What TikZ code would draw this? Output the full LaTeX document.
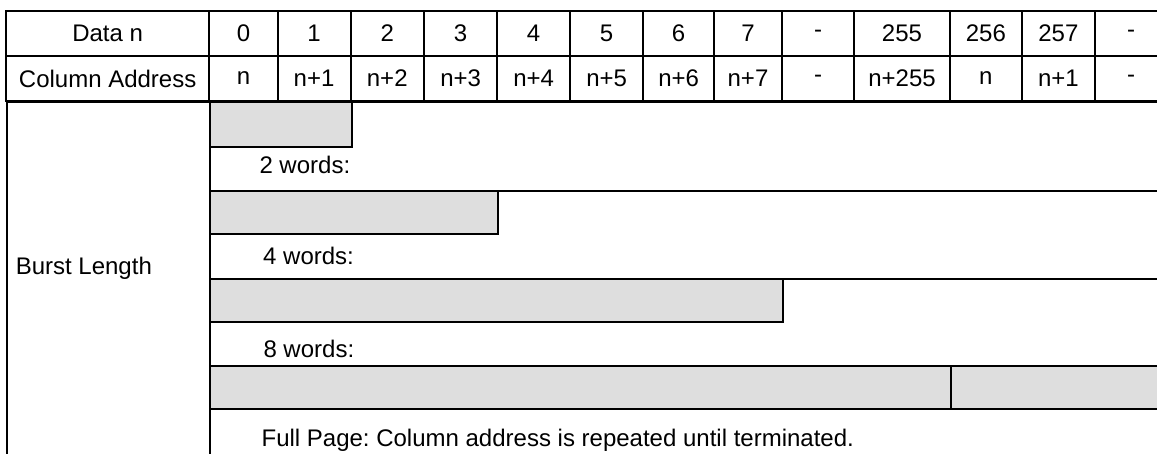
\documentclass[tikz,border=0pt]{standalone}
\usepackage{fontspec}
\setmainfont{Liberation Sans}
\frenchspacing
\definecolor{barfill}{RGB}{222,222,222}
\tikzset{
	cell/.style={draw, rectangle, line width=2pt, inner sep=0pt, minimum height=45pt},
	bar/.style={draw, rectangle, line width=2pt, fill=barfill, inner sep=0pt, anchor=north west},
	lbl/.style={inner sep=0pt, anchor=west},
}
\begin{document}
\begin{tikzpicture}[x=1pt, y=-1pt, font=\fontsize{24pt}{28pt}\selectfont]
		\path[use as bounding box, clip] (0,0) rectangle (1157,453);

		% Row headers
		\node[cell, minimum width=203.3pt] (datan) at (107.65,33.5) {Data n};
		\node[cell, minimum width=203.3pt] (coladdr) at (107.65,78.5) {Column Address};

		% Data words 0 to 7
		\node[cell, minimum width=68.4pt] (d0) at (243.5,33.5) {0};
		\node[cell, minimum width=68.4pt] (a0) at (243.5,78.5) {n};
		\node[cell, minimum width=72.8pt] (d1) at (314.1,33.5) {1};
		\node[cell, minimum width=72.8pt] (a1) at (314.1,78.5) {n+1};
		\node[cell, minimum width=73.5pt] (d2) at (387.25,33.5) {2};
		\node[cell, minimum width=73.5pt] (a2) at (387.25,78.5) {n+2};
		\node[cell, minimum width=73.3pt] (d3) at (460.65,33.5) {3};
		\node[cell, minimum width=73.3pt] (a3) at (460.65,78.5) {n+3};
		\node[cell, minimum width=72.7pt] (d4) at (533.65,33.5) {4};
		\node[cell, minimum width=72.7pt] (a4) at (533.65,78.5) {n+4};
		\node[cell, minimum width=73.3pt] (d5) at (606.65,33.5) {5};
		\node[cell, minimum width=73.3pt] (a5) at (606.65,78.5) {n+5};
		\node[cell, minimum width=70.7pt] (d6) at (678.65,33.5) {6};
		\node[cell, minimum width=70.7pt] (a6) at (678.65,78.5) {n+6};
		\node[cell, minimum width=68pt] (d7) at (748,33.5) {7};
		\node[cell, minimum width=68pt] (a7) at (748,78.5) {n+7};
		\node[cell, minimum width=72pt] (dgap) at (818,33.5) {-};
		\node[cell, minimum width=72pt] (agap) at (818,78.5) {-};

		% End of page and wrap-around
		\node[cell, minimum width=96pt] (d255) at (902,33.5) {255};
		\node[cell, minimum width=96pt] (a255) at (902,78.5) {n+255};
		\node[cell, minimum width=71.7pt] (d256) at (985.85,33.5) {256};
		\node[cell, minimum width=71.7pt] (a256) at (985.85,78.5) {n};
		\node[cell, minimum width=73.3pt] (d257) at (1058.35,33.5) {257};
		\node[cell, minimum width=73.3pt] (a257) at (1058.35,78.5) {n+1};
		\node[cell, minimum width=72pt] (dmore) at (1131,33.5) {-};
		\node[cell, minimum width=72pt] (amore) at (1131,78.5) {-};

		% Burst Length rows
		\node[cell, anchor=north west, minimum width=203.3pt, minimum height=400pt] (burst) at (6,101) {};
		\node[lbl] (burstlbl) at (15.6,268.3) {Burst Length};
		\node[cell, anchor=north west, minimum width=1000pt, minimum height=89pt] (row2) at (209.3,101) {};
		\node[cell, anchor=north west, minimum width=1000pt, minimum height=87.7pt] (row4) at (209.3,190) {};
		\node[cell, anchor=north west, minimum width=1000pt, minimum height=87.3pt] (row8) at (209.3,277.7) {};
		\node[cell, anchor=north west, minimum width=1000pt, minimum height=120pt] (rowfull) at (209.3,365) {};

		% Burst bars
		\node[bar, minimum width=141.7pt, minimum height=44.7pt] (bar2) at (209.3,101) {};
		\node[bar, minimum width=288pt, minimum height=42.7pt] (bar4) at (209.3,190) {};
		\node[bar, minimum width=572.4pt, minimum height=43pt] (bar8) at (209.3,277.7) {};
		\node[bar, minimum width=740.7pt, minimum height=42.7pt] (barfull) at (209.3,365) {};
		\node[bar, minimum width=250pt, minimum height=42.7pt] (barrep) at (950,365) {};

		% Burst labels
		\node[lbl] (lbl2) at (259.3,165) {2 words:};
		\node[lbl] (lbl4) at (263,256) {4 words:};
		\node[lbl] (lbl8) at (263.3,349) {8 words:};
		\node[lbl] (lblfull) at (261.4,440) {Full Page: Column address is repeated until terminated.};
	\end{tikzpicture}
\end{document}
